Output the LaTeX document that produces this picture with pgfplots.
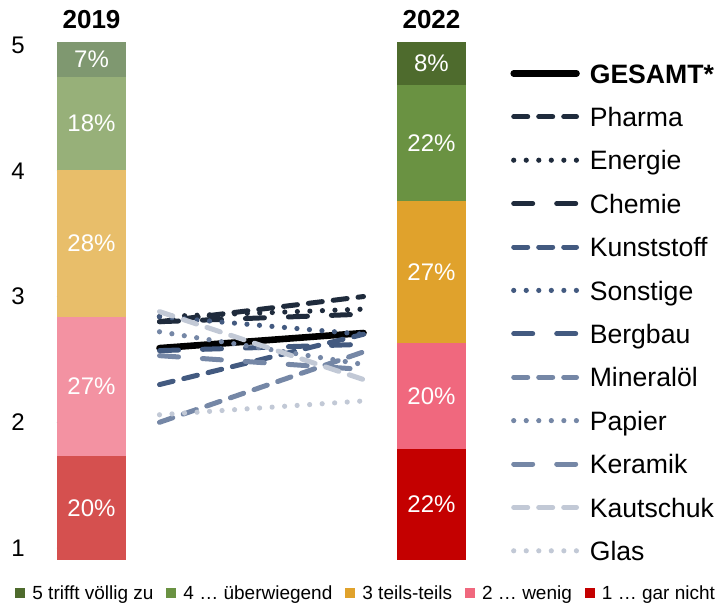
\documentclass[border=0pt]{standalone}
\usepackage{fontspec}
\setmainfont{Liberation Sans}
\usepackage{pgfplots}
\pgfplotsset{compat=1.18}
\definecolor{a19}{HTML}{D5504F}
\definecolor{b19}{HTML}{F392A2}
\definecolor{c19}{HTML}{E8BE6A}
\definecolor{d19}{HTML}{97B079}
\definecolor{e19}{HTML}{7F9870}
\definecolor{a22}{HTML}{C40000}
\definecolor{b22}{HTML}{F0687E}
\definecolor{c22}{HTML}{E0A22C}
\definecolor{d22}{HTML}{6A9242}
\definecolor{e22}{HTML}{4E6B2D}
\definecolor{l1}{HTML}{1F2B3C}
\definecolor{l2}{HTML}{435A80}
\definecolor{l3}{HTML}{7587A6}
\definecolor{l4}{HTML}{C2C9D6}
\begin{document}
\begin{tikzpicture}
\useasboundingbox (-28.5pt,-21pt) rectangle (329pt,280pt);
\pgfplotsset{common/.style={scale only axis, width=204.5pt, height=259pt, xmin=-0.1015, xmax=1.1015, enlargelimits=false, clip=false}}
% ---------------- stacked bars
\begin{axis}[common, ymin=0, ymax=100, hide axis, ybar stacked, bar width=34.5pt,
  legend columns=5, legend cell align=left,
  legend image code/.code={\path[#1, draw=none] (0pt,-2.5pt) rectangle (5pt,2.5pt);},
  legend style={draw=none, fill=none, at={(rel axis cs:0,0)}, anchor=west, xshift=-21pt, yshift=-16.5pt, inner sep=0pt,
    font=\fontsize{9.5pt}{11pt}\selectfont, nodes={inner sep=0pt, text height=6.8pt, text depth=0pt},
    /tikz/every odd column/.append style={column sep=3.5pt},
    /tikz/every even column/.append style={column sep=6.5pt}}]
\addplot[fill=a22, draw=none, forget plot] coordinates {(0,0) (1,21.4)};
\addplot[fill=b22, draw=none, forget plot] coordinates {(0,0) (1,20.5)};
\addplot[fill=c22, draw=none, forget plot] coordinates {(0,0) (1,27.4)};
\addplot[fill=d22, draw=none, forget plot] coordinates {(0,0) (1,22.4)};
\addplot[fill=e22, draw=none, forget plot] coordinates {(0,0) (1,8.3)};
\addplot[fill=a19, draw=none, forget plot] coordinates {(0,20.1) (1,0)};
\addplot[fill=b19, draw=none, forget plot] coordinates {(0,26.8) (1,0)};
\addplot[fill=c19, draw=none, forget plot] coordinates {(0,28.4) (1,0)};
\addplot[fill=d19, draw=none, forget plot] coordinates {(0,18.0) (1,0)};
\addplot[fill=e19, draw=none, forget plot] coordinates {(0,6.7) (1,0)};
\addlegendimage{fill=e22}
\addlegendentry{5 trifft völlig zu}
\addlegendimage{fill=d22}
\addlegendentry{4 … überwiegend}
\addlegendimage{fill=c22}
\addlegendentry{3 teils-teils}
\addlegendimage{fill=b22}
\addlegendentry{2 … wenig}
\addlegendimage{fill=a22}
\addlegendentry{1 … gar nicht}
\end{axis}
% ---------------- labels
\begin{axis}[common, ymin=0, ymax=100, hide axis]
\addplot[draw=none, nodes near coords, point meta=explicit symbolic,
  every node near coord/.append style={anchor=center, text=white, font=\fontsize{12pt}{14pt}\selectfont}]
  coordinates {(0,10.05)[20\%] (0,33.5)[27\%] (0,61.1)[28\%] (0,84.3)[18\%] (0,96.65)[7\%]
               (1,10.7)[22\%] (1,31.65)[20\%] (1,55.6)[27\%] (1,80.5)[22\%] (1,95.85)[8\%]};
\addplot[draw=none, nodes near coords, point meta=explicit symbolic,
  every node near coord/.append style={anchor=center, text=black, font=\fontsize{13pt}{15pt}\selectfont\bfseries}]
  coordinates {(0,104.25)[2019] (1,104.25)[2022]};
\end{axis}
% ---------------- lines
\begin{axis}[common, ymin=0.905, ymax=5.024, axis lines=left, axis line style={draw=none,-},
  xtick=\empty, ytick={1,2,3,4,5}, major tick length=0pt,
  yticklabel style={anchor=center, xshift=-19.5pt, font=\fontsize{12pt}{14pt}\selectfont},
  /pgf/number format/assume math mode=true,
  line cap=round,
  legend cell align=left,
  legend image code/.code={\draw[#1, line cap=round] (1.3pt,0pt) -- (32.7pt,0pt);},
  legend style={draw=none, fill=none, at={(rel axis cs:1,1)}, anchor=north west, xshift=22pt, yshift=-4.65pt, inner sep=0pt, row sep=0pt,
    font=\fontsize{13.3pt}{16pt}\selectfont, nodes={inner sep=0pt, text height=15.65pt, text depth=6.05pt},
    /tikz/every odd column/.append style={column sep=5pt}},
  dashstyle/.style={line width=2.5pt, dash pattern=on 7pt off 5.5pt},
  dotstyle/.style={line width=2.6pt, dash pattern=on 0pt off 6.27pt},
  longstyle/.style={line width=2.5pt, dash pattern=on 9.5pt off 12pt}]
\addplot[black, line width=3.3pt] coordinates {(0.2,2.59) (0.8,2.71)};
\addlegendentry{\textbf{GESAMT*}}
\addplot[l1, dashstyle] coordinates {(0.2,2.80) (0.8,3.00)};
\addlegendentry{Pharma}
\addplot[l1, dotstyle] coordinates {(0.2,2.84) (0.8,2.90)};
\addlegendentry{Energie}
\addplot[l1, longstyle] coordinates {(0.2,2.80) (0.8,2.86)};
\addlegendentry{Chemie}
\addplot[l2, dashstyle] coordinates {(0.2,2.30) (0.8,2.70)};
\addlegendentry{Kunststoff}
\addplot[l2, dotstyle] coordinates {(0.2,2.84) (0.8,2.70)};
\addlegendentry{Sonstige}
\addplot[l2, longstyle] coordinates {(0.2,2.57) (0.8,2.62)};
\addlegendentry{Bergbau}
\addplot[l3, dashstyle] coordinates {(0.2,2.00) (0.8,2.56)};
\addlegendentry{Mineralöl}
\addplot[l3, dotstyle] coordinates {(0.2,2.72) (0.8,2.46)};
\addlegendentry{Papier}
\addplot[l3, longstyle] coordinates {(0.2,2.53) (0.8,2.42)};
\addlegendentry{Keramik}
\addplot[l4, dashstyle] coordinates {(0.2,2.88) (0.8,2.34)};
\addlegendentry{Kautschuk}
\addplot[l4, dotstyle] coordinates {(0.2,2.06) (0.8,2.17)};
\addlegendentry{Glas}
\end{axis}
\end{tikzpicture}
\end{document}
